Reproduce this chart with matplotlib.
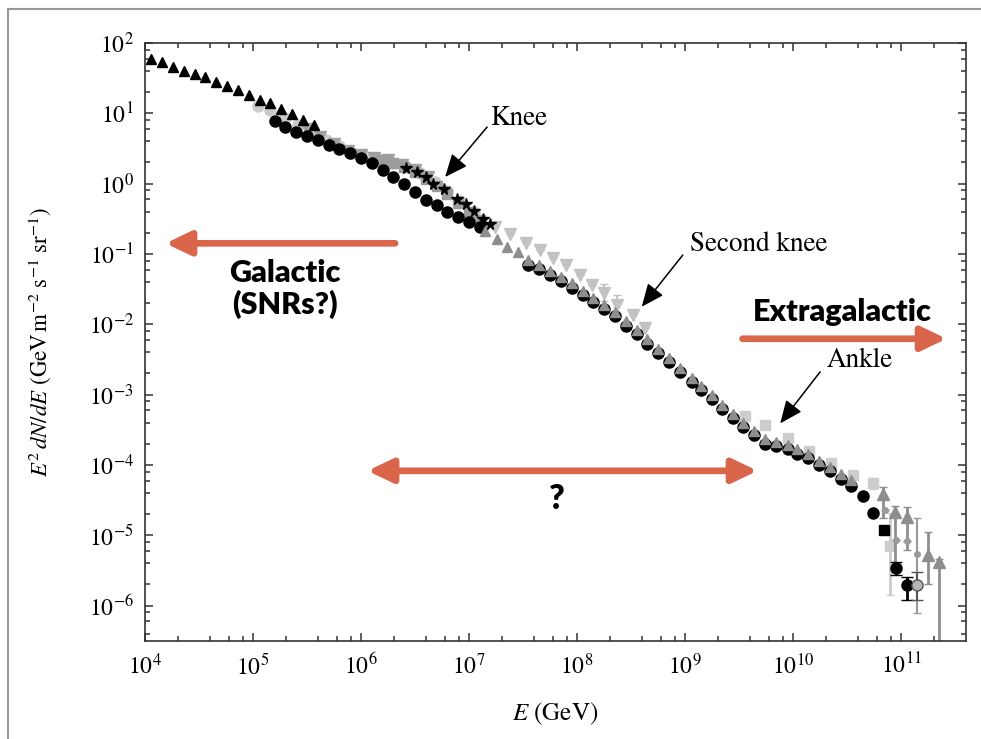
import numpy as np
import matplotlib
matplotlib.use("Agg")
import matplotlib.pyplot as plt
from matplotlib.ticker import LogLocator, NullFormatter, LogFormatterSciNotation
from matplotlib.lines import Line2D

plt.rcParams["font.family"] = ["STIXGeneral", "DejaVu Serif"]
plt.rcParams["mathtext.fontset"] = "stix"

ORANGE = "#d9654b"

# --- data (log10 E [GeV], log10 E^2 dN/dE) ---
# low-energy direct measurements (small black triangles)
tri_logE = [4.06, 4.16, 4.26, 4.36, 4.46, 4.56, 4.66, 4.76, 4.86, 4.96,
            5.06, 5.16, 5.26, 5.36, 5.46, 5.56]
tri_logF = [1.77, 1.73, 1.66, 1.60, 1.56, 1.51, 1.45, 1.39, 1.33, 1.26,
            1.19, 1.14, 1.06, 0.99, 0.91, 0.83]

# light grey circles, upper band through the knee
lgc_logE = [5.05, 5.16, 5.30, 5.42, 5.55, 5.68, 5.80, 5.92, 6.05, 6.18,
            6.30, 6.42, 6.55, 6.68, 6.80, 6.92, 7.05]
lgc_logF = [1.10, 1.05, 0.93, 0.84, 0.73, 0.62, 0.53, 0.44, 0.38, 0.33,
            0.29, 0.23, 0.15, 0.03, -0.10, -0.24, -0.40]

# grey down triangles
gdn_logE = [5.50, 5.62, 5.75, 5.88, 6.00, 6.12, 6.25, 6.38, 6.50, 6.62]
gdn_logF = [0.77, 0.67, 0.57, 0.47, 0.41, 0.37, 0.33, 0.27, 0.20, 0.09]

# grey squares around the knee
gsq_logE = [6.20, 6.30, 6.40, 6.50, 6.60, 6.70, 6.80, 6.90, 7.00, 7.10]
gsq_logF = [0.33, 0.30, 0.24, 0.16, 0.07, -0.03, -0.15, -0.28, -0.41, -0.52]

# black stars
star_logE = [6.42, 6.52, 6.60, 6.67, 6.77, 6.89, 6.97, 7.05, 7.13, 7.19]
star_logF = [0.22, 0.17, 0.10, 0.00, -0.08, -0.22, -0.29, -0.39, -0.51, -0.58]

# black circles, lower band below the knee
bc1_logE = [5.2, 5.3, 5.4, 5.5, 5.6, 5.7, 5.8, 5.9, 6.0, 6.1,
            6.2, 6.3, 6.4, 6.5, 6.6, 6.7, 6.8, 6.9, 7.0, 7.1]
bc1_logF = [0.89, 0.81, 0.74, 0.68, 0.62, 0.55, 0.49, 0.43, 0.36, 0.29,
            0.19, 0.10, 0.00, -0.12, -0.23, -0.30, -0.40, -0.47, -0.54, -0.62]

# black circles, main band to the end of the spectrum
bc2_logE = [7.55, 7.65, 7.75, 7.85, 7.95, 8.05, 8.15, 8.25, 8.35, 8.45,
            8.55, 8.65, 8.75, 8.85, 8.95, 9.06, 9.15, 9.25, 9.34, 9.44,
            9.54, 9.64, 9.74, 9.84, 9.95, 10.04, 10.14, 10.24, 10.34, 10.44,
            10.54, 10.65, 10.74]
bc2_logF = [-1.16, -1.22, -1.30, -1.39, -1.49, -1.58, -1.69, -1.78, -1.88, -2.02,
            -2.14, -2.28, -2.41, -2.54, -2.68, -2.82, -2.94, -3.06, -3.21, -3.33,
            -3.46, -3.58, -3.70, -3.73, -3.78, -3.84, -3.90, -4.00, -4.09, -4.20,
            -4.30, -4.44, -4.68]

# mid grey up triangles sitting just above the black circles
gup_logE = [7.15, 7.26, 7.35, 7.45, 7.55, 7.65, 7.75, 7.85, 7.95, 8.05,
            8.15, 8.25, 8.35, 8.45, 8.55, 8.65, 8.75, 8.85, 8.95, 9.06,
            9.15, 9.25, 9.34, 9.44, 9.54, 9.64, 9.74, 9.84, 9.95, 10.04,
            10.14, 10.24, 10.34, 10.44, 10.54]
gup_logF = [-0.68, -0.79, -0.90, -0.97, -1.09, -1.16, -1.24, -1.33, -1.42, -1.52,
            -1.62, -1.72, -1.82, -1.95, -2.08, -2.21, -2.35, -2.48, -2.62, -2.76,
            -2.88, -3.00, -3.15, -3.27, -3.40, -3.52, -3.63, -3.67, -3.72, -3.78,
            -3.84, -3.94, -4.03, -4.13, -4.22]

# light grey down triangles, second knee
ldn_logE = [7.24, 7.38, 7.53, 7.66, 7.78, 7.90, 8.03, 8.14, 8.25, 8.37, 8.52, 8.63]
ldn_logF = [-0.61, -0.71, -0.85, -0.95, -1.06, -1.16, -1.30, -1.44, -1.55, -1.72, -1.87, -2.06]
ldn_err = [0.0, 0.0, 0.0, 0.0, 0.0, 0.0, 0.0, 0.0, 0.12, 0.14, 0.0, 0.0]

# light grey squares, ankle and beyond
lsq_logE = [9.55, 9.74, 9.95, 10.15, 10.35, 10.55, 10.74, 10.90]
lsq_logF = [-3.30, -3.43, -3.62, -3.80, -3.98, -4.14, -4.26, -5.15]
lsq_lo = [0.0, 0.0, 0.0, 0.0, 0.05, 0.06, 0.08, 0.70]
lsq_hi = [0.0, 0.0, 0.0, 0.0, 0.05, 0.06, 0.08, 0.46]

# highest-energy grey triangles with large errors
hup_logE = [10.83, 10.94, 11.05, 11.25, 11.35]
hup_logF = [-4.41, -4.67, -4.74, -5.28, -5.38]
hup_lo = [0.34, 0.83, 0.47, 0.42, 1.20]
hup_hi = [0.09, 0.08, 0.14, 0.32, 0.04]

# highest-energy black points
hbc_logE = [10.95, 11.05]
hbc_logF = [-5.46, -5.71]
hbc_lo = [0.11, 0.21]
hbc_hi = [0.08, 0.12]
hsq_logE = [10.84]
hsq_logF = [-4.93]
hoc_logE = [11.15]
hoc_logF = [-5.71]
hoc_lo = [0.21]
hoc_hi = [0.19]
hdot_logE = [10.85, 10.95, 11.05, 11.15]
hdot_logF = [-4.64, -5.07, -5.08, -5.26]
hdot_lo = [0.0, 0.0, 0.0, 0.85]
hdot_hi = [0.0, 0.0, 0.0, 0.50]

# decades that carry a tick label
x_decades = [4, 5, 6, 7, 8, 9, 10, 11]
y_decades = [-6, -5, -4, -3, -2, -1, 0, 1, 2]


def p(v):
    return 10.0 ** np.asarray(v, dtype=float)


def err(logF, lo, hi):
    f = p(logF)
    return [f - p(np.asarray(logF) - np.asarray(lo)), p(np.asarray(logF) + np.asarray(hi)) - f]


fig = plt.figure(figsize=(9.81, 7.39), dpi=100)
# page frame (left and top edges only are visible)
fig.add_artist(Line2D([8 / 981, 8 / 981], [0, 1 - 9 / 739], transform=fig.transFigure,
                      color="#9a9a9a", lw=1.5))
fig.add_artist(Line2D([8 / 981, 1], [1 - 9 / 739, 1 - 9 / 739], transform=fig.transFigure,
                      color="#9a9a9a", lw=1.5))
ax = fig.add_axes([145 / 981, 1 - 640.7 / 739, (966 - 145) / 981, (640.7 - 43) / 739])
ax.set_xscale("log")
ax.set_yscale("log")

ax.plot(p(tri_logE), p(tri_logF), "^", color="black", ms=6.5, ls="none", zorder=3)
ax.plot(p(lgc_logE), p(lgc_logF), "o", color="#cbcbcb", ms=8, ls="none", zorder=2)
ax.plot(p(gdn_logE), p(gdn_logF), "v", color="#a0a0a0", ms=8, ls="none", zorder=2)
ax.plot(p(gsq_logE), p(gsq_logF), "s", color="#9c9c9c", ms=7, ls="none", zorder=2)
ax.plot(p(bc1_logE), p(bc1_logF), "o", color="black", ms=8, ls="none", zorder=2)
ax.plot(p(star_logE), p(star_logF), "*", color="black", ms=8.5, ls="none", zorder=3)
ax.errorbar(p(ldn_logE), p(ldn_logF), yerr=err(ldn_logF, ldn_err, ldn_err), fmt="v", color="#c2c2c2",
            ms=8, capsize=3, elinewidth=1.5, zorder=2)
ax.plot(p(bc2_logE), p(bc2_logF), "o", color="black", ms=8, ls="none", zorder=2)
ax.plot(p(gup_logE), p(gup_logF), "^", color="#8e8e8e", ms=7, ls="none", zorder=2.5)
ax.errorbar(p(lsq_logE), p(lsq_logF), yerr=err(lsq_logF, lsq_lo, lsq_hi), fmt="s", color="#cdcdcd",
            ms=7, capsize=3, elinewidth=2, zorder=1.5)
ax.errorbar(p(hdot_logE), p(hdot_logF), yerr=err(hdot_logF, hdot_lo, hdot_hi), fmt="o", color="#9a9a9a",
            ms=4, capsize=3, elinewidth=1.5, zorder=1.6)
ax.errorbar(p(hup_logE), p(hup_logF), yerr=err(hup_logF, hup_lo, hup_hi), fmt="^", color="#8e8e8e",
            ms=8, capsize=3, elinewidth=2, zorder=1.7)
ax.plot(p(hsq_logE), p(hsq_logF), "s", color="black", ms=7, ls="none", zorder=3)
ax.errorbar(p(hbc_logE), p(hbc_logF), yerr=err(hbc_logF, hbc_lo, hbc_hi), fmt="o", color="black",
            ms=8, capsize=4, elinewidth=2, zorder=3)
ax.errorbar(p(hoc_logE), p(hoc_logF), yerr=err(hoc_logF, hoc_lo, hoc_hi), fmt="o", color="#555555",
            mfc="#b5b5b5", ms=8, capsize=4, elinewidth=1.5, zorder=3)

ax.set_xticks(p(x_decades))
ax.set_yticks(p(y_decades))
ax.xaxis.set_major_formatter(LogFormatterSciNotation())
ax.yaxis.set_major_formatter(LogFormatterSciNotation())
for axis in (ax.xaxis, ax.yaxis):
    axis.set_minor_locator(LogLocator(base=10, subs=[2, 4, 6, 8], numticks=20))
    axis.set_minor_formatter(NullFormatter())
ax.set_xlim(1e4, 10 ** 11.6)
ax.set_ylim(10 ** -6.5, 1e2)

ax.tick_params(which="both", direction="in", top=True, right=True, width=1.1, color="#333333",
               labelsize=17)
ax.tick_params(which="major", length=6)
ax.tick_params(which="minor", length=3.5)
ax.tick_params(axis="x", pad=9)
ax.tick_params(axis="y", pad=8)
for s in ax.spines.values():
    s.set_linewidth(1.2)
    s.set_color("#333333")

ax.set_xlabel(r"$E$ (GeV)", fontsize=18)
ax.set_ylabel(r"$E^2\,dN/dE$ (GeV$\,$m$^{-2}$ s$^{-1}$ sr$^{-1}$)", fontsize=16.5)
ax.xaxis.set_label_coords(0.5, -0.10)
ax.yaxis.set_label_coords(-0.112, 0.5)

# coloured region arrows
big = dict(arrowstyle="-|>,head_length=0.75,head_width=0.36", color=ORANGE, lw=4.8,
           mutation_scale=20, shrinkA=0, shrinkB=0)
both = dict(arrowstyle="<|-|>,head_length=0.75,head_width=0.36", color=ORANGE, lw=4.8,
            mutation_scale=20, shrinkA=0, shrinkB=0)
ax.annotate("", xy=(10 ** 4.19, 10 ** -0.849), xytext=(10 ** 6.315, 10 ** -0.849), arrowprops=big)
ax.annotate("", xy=(10 ** 11.42, 10 ** -2.206), xytext=(10 ** 9.531, 10 ** -2.206), arrowprops=big)
ax.annotate("", xy=(10 ** 9.67, 10 ** -4.084), xytext=(10 ** 6.06, 10 ** -4.084), arrowprops=both)

sans = dict(family="Lato", fontweight="heavy", color="black")
ax.text(10 ** 5.296, 10 ** -1.50, "Galactic\n(SNRs?)", ha="center", va="center", fontsize=22,
        linespacing=1.1, **sans)
ax.text(10 ** 10.458, 10 ** -1.822, "Extragalactic", ha="center", va="center", fontsize=22, **sans)
ax.text(10 ** 7.815, 10 ** -4.48, "?", ha="center", va="center", fontsize=24, **sans)

# feature labels
thin = dict(arrowstyle="-|>,head_length=0.7,head_width=0.3", color="black", lw=1.1,
            mutation_scale=20, shrinkA=0, shrinkB=0)
ax.annotate("", xy=(10 ** 6.778, 10 ** 0.094), xytext=(10 ** 7.167, 10 ** 0.805), arrowprops=thin)
ax.annotate("", xy=(10 ** 8.598, 10 ** -1.751), xytext=(10 ** 8.978, 10 ** -1.016), arrowprops=thin)
ax.annotate("", xy=(10 ** 9.88, 10 ** -3.41), xytext=(10 ** 10.25, 10 ** -2.676), arrowprops=thin)
ax.text(10 ** 7.194, 10 ** 0.933, "Knee", ha="left", va="center", fontsize=19.5)
ax.text(10 ** 9.046, 10 ** -0.859, "Second knee", ha="left", va="center", fontsize=19.5)
ax.text(10 ** 10.31, 10 ** -2.51, "Ankle", ha="left", va="center", fontsize=19.5)

fig.savefig("out.png", dpi=100)
